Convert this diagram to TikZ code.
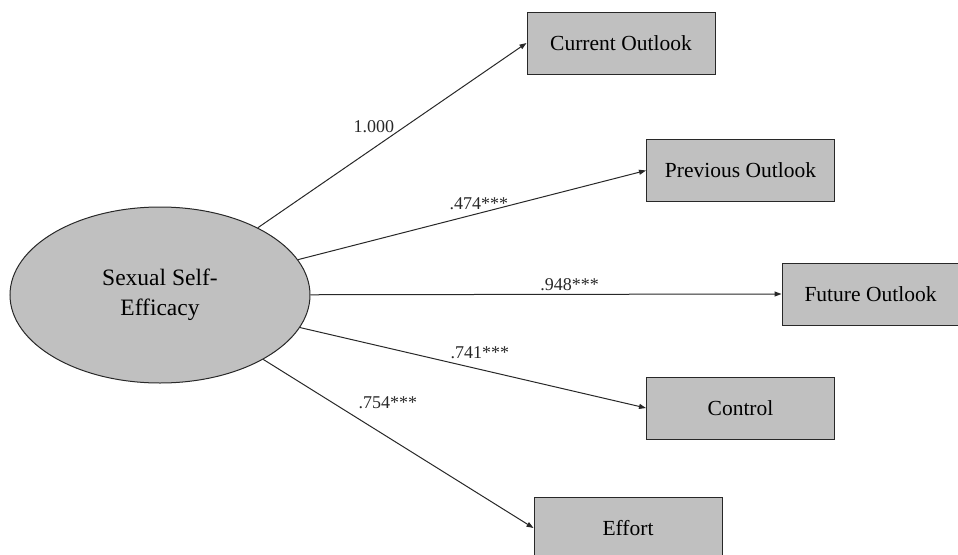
\documentclass[tikz,border=0pt]{standalone}
\usepackage{fontspec}
\setmainfont{Liberation Serif}
\usepackage{tikz}
\usetikzlibrary{arrows.meta}
\usetikzlibrary{shapes.geometric}
\definecolor{boxgray}{RGB}{192,192,192}
\definecolor{linegray}{RGB}{40,40,40}
\newcommand{\pathto}{\draw[linegray, line width=1pt, -{Triangle[length=7pt, width=5pt]}]}

\begin{document}
\begin{tikzpicture}[x=1pt, y=-1pt,
    factor/.style={ellipse, draw=linegray, line width=1pt, fill=boxgray,
        minimum width=300pt, minimum height=176pt, align=center,
        font=\fontsize{23.5}{29.5}\selectfont},
    item/.style={rectangle, draw=linegray, line width=1pt, fill=boxgray,
        minimum width=188pt, minimum height=62pt, font=\fontsize{21.5}{25}\selectfont},
    coef/.style={font=\fontsize{18}{20}\selectfont, inner sep=3pt}]
    \useasboundingbox (0,0) rectangle (958,554);

    % Latent factor
    \node[factor] (sse) at (160,295) {Sexual Self-\\Efficacy};

    % Indicators
    \node[item] (cur) at (621,43) {Current Outlook};
    \node[item] (prev) at (740.5,170.5) {Previous Outlook};
    \node[item, minimum width=177pt] (fut) at (870.5,294) {Future Outlook};
    \node[item] (ctrl) at (740.5,408) {Control};
    \node[item] (eff) at (628,528) {Effort};

    % Loadings
    \pathto (sse) -- (cur.west) node[coef, pos=0.52, above left, yshift=-5pt] {1.000};
    \pathto (sse) -- (prev.west) node[coef, pos=0.52, above] {.474***};
    \pathto (sse) -- (fut.west) node[coef, pos=0.55, above] {.948***};
    \pathto (sse) -- (ctrl.west) node[coef, pos=0.52, above, yshift=7pt] {.741***};
    \pathto (sse) -- (eff.west) node[coef, pos=0.34, above right, yshift=4pt] {.754***};
\end{tikzpicture}
\end{document}
